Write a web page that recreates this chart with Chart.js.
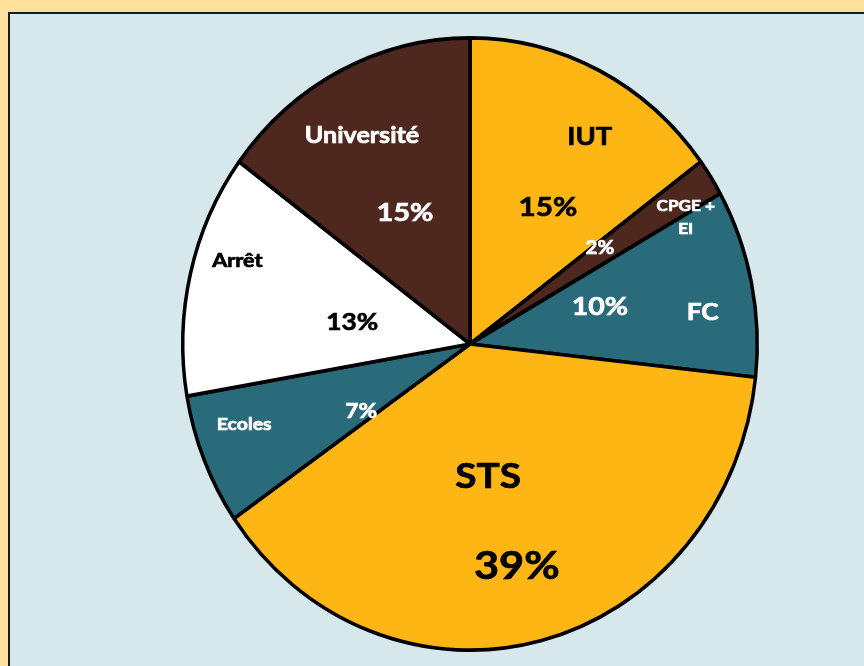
<!DOCTYPE html>
<html>
<head>
<meta charset="utf-8">
<script src="https://cdn.jsdelivr.net/npm/chart.js@4.4.0/dist/chart.umd.min.js"></script>
<style>
  html, body { margin: 0; padding: 0; background: #FFE09A; }
  #wrap { width: 864px; height: 666px; position: relative; }
</style>
</head>
<body>
<div id="wrap"><canvas id="graphe" width="864" height="666"></canvas></div>
<script>
// donnees du camembert
const categories = ["IUT", "CPGE + EI", "FC", "STS", "Ecoles", "Arrêt", "Université"];
const pourcentages = [15, 2, 10, 39, 7, 13, 15];
const couleurs = ["#FDB614", "#4E281F", "#2A6B7B", "#FDB614", "#2A6B7B", "#FFFFFF", "#4E281F"];

// mise en place des etiquettes (offsets en rayons, depuis le centre)
const etiquettes = [
  { txt: "IUT", dx: 0.417, dy: -0.675, taille: 24, coul: "#000" },
  { txt: "15%", dx: 0.271, dy: -0.447, taille: 26, coul: "#000" },
  { txt: "CPGE +", dx: 0.751, dy: -0.450, taille: 15, coul: "#fff" },
  { txt: "EI", dx: 0.751, dy: -0.375, taille: 15, coul: "#fff" },
  { txt: "2%", dx: 0.452, dy: -0.313, taille: 18, coul: "#fff" },
  { txt: "10%", dx: 0.452, dy: -0.121, taille: 25, coul: "#fff" },
  { txt: "FC", dx: 0.810, dy: -0.104, taille: 23, coul: "#fff" },
  { txt: "STS", dx: 0.063, dy: 0.434, taille: 34, coul: "#000" },
  { txt: "39%", dx: 0.163, dy: 0.728, taille: 38, coul: "#000" },
  { txt: "Ecoles", dx: -0.786, dy: 0.264, taille: 17, coul: "#fff" },
  { txt: "7%", dx: -0.379, dy: 0.222, taille: 20, coul: "#fff" },
  { txt: "Arrêt", dx: -0.810, dy: -0.271, taille: 19, coul: "#000" },
  { txt: "13%", dx: -0.410, dy: -0.069, taille: 23, coul: "#000" },
  { txt: "Université", dx: -0.376, dy: -0.679, taille: 22, coul: "#fff" },
  { txt: "15%", dx: -0.226, dy: -0.427, taille: 25, coul: "#fff" }
];

const etirementY = 1.066; // le camembert d'origine est un peu ovale
const etirementTexte = 1.14; // police plus large que Lato dans l'original

const fondPlugin = {
  id: "fond",
  beforeDraw(chart) {
    const ctx = chart.ctx;
    ctx.save();
    ctx.fillStyle = "#FFE09A";
    ctx.fillRect(0, 0, chart.width, chart.height);
    ctx.fillStyle = "#D6E8EC";
    ctx.fillRect(9, 13, chart.width, chart.height);
    ctx.strokeStyle = "#1a1a1a";
    ctx.lineWidth = 2;
    ctx.beginPath();
    ctx.moveTo(9, chart.height + 5);
    ctx.lineTo(9, 13);
    ctx.lineTo(chart.width + 5, 13);
    ctx.stroke();
    ctx.restore();
  }
};

const ovalePlugin = {
  id: "ovale",
  beforeDatasetsDraw(chart) {
    const arc = chart.getDatasetMeta(0).data[0];
    const ctx = chart.ctx;
    ctx.save();
    ctx.translate(arc.x, arc.y);
    ctx.scale(1, etirementY);
    ctx.translate(-arc.x, -arc.y);
  },
  afterDatasetsDraw(chart) {
    chart.ctx.restore();
  }
};

const textePlugin = {
  id: "textes",
  afterDraw(chart) {
    const arc = chart.getDatasetMeta(0).data[0];
    const r = arc.outerRadius;
    const ctx = chart.ctx;
    etiquettes.forEach(e => {
      ctx.save();
      ctx.textAlign = "center";
      ctx.textBaseline = "middle";
      ctx.font = "bold " + e.taille + "px Lato";
      ctx.fillStyle = e.coul;
      ctx.strokeStyle = e.coul;
      ctx.lineWidth = 0.7;
      ctx.translate(arc.x + e.dx * r, arc.y + e.dy * r * etirementY);
      ctx.scale(etirementTexte, 1);
      ctx.fillText(e.txt, 0, 0);
      ctx.strokeText(e.txt, 0, 0);
      ctx.restore();
    });
  }
};

const config = {
  type: "pie",
  data: {
    labels: categories,
    datasets: [{
      data: pourcentages,
      backgroundColor: couleurs,
      borderColor: "#000",
      borderWidth: 3.5
    }]
  },
  options: {
    responsive: false,
    animation: false,
    layout: { padding: { left: 181, right: 105, top: 55, bottom: 33 } },
    plugins: {
      legend: { display: false },
      tooltip: { enabled: false }
    }
  },
  plugins: [fondPlugin, ovalePlugin, textePlugin]
};

const monGraphe = new Chart(document.getElementById("graphe"), config);
</script>
</body>
</html>
